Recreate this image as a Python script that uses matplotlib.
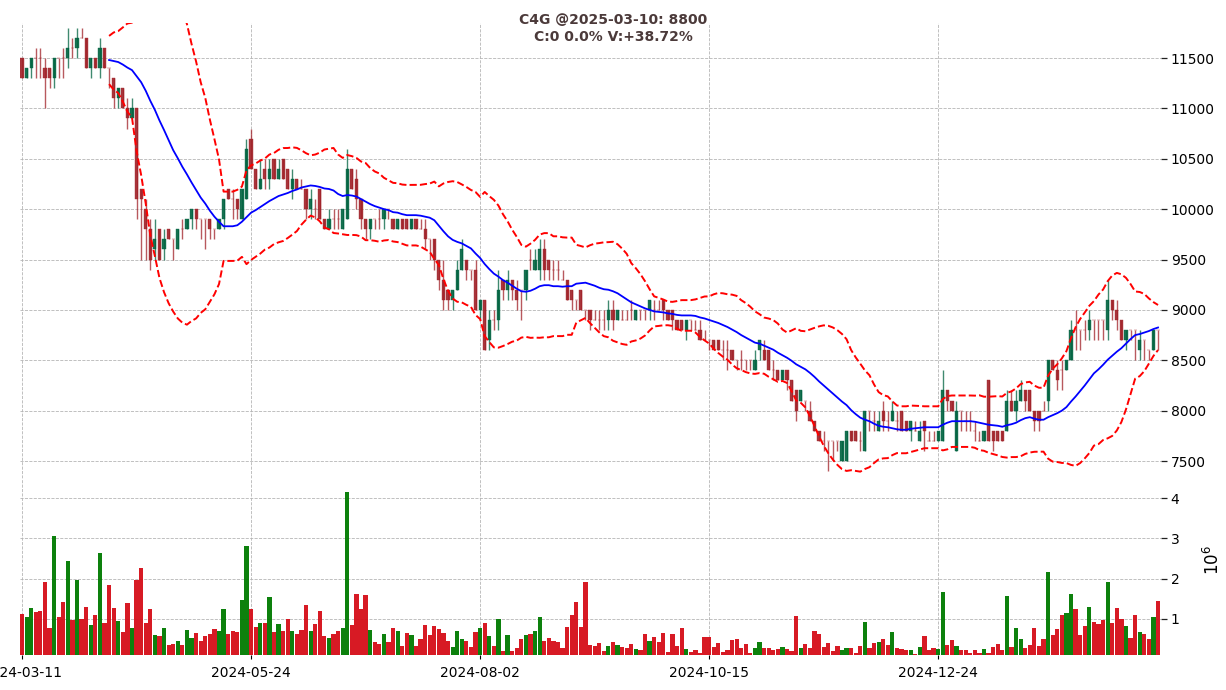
import numpy as np
import pandas as pd
import matplotlib
matplotlib.use("Agg")
import matplotlib.pyplot as plt

# daily OHLC (index 0 = 2024-03-11, last = 2025-03-10)
opens = [11500, 11300, 11400, 11500, 11500, 11400, 11400, 11300, 11500, 11500,
         11500, 11600, 11600, 11700, 11700, 11400, 11500, 11400, 11600, 11400,
         11300, 11100, 11200, 11000, 10900, 11000, 10200, 10000, 9800, 9600,
         9800, 9600, 9800, 9700, 9600, 9800, 9800, 9900, 10000, 9900,
         9900, 9900, 9800, 9800, 9900, 10200, 10100, 10100, 9900, 10100,
         10700, 10400, 10200, 10400, 10300, 10500, 10300, 10500, 10400, 10200,
         10300, 10200, 10200, 10000, 10000, 10200, 9900, 9800, 9900, 9900,
         9800, 9900, 10400, 10300, 10100, 9900, 9800, 9900, 9900, 9900,
         10000, 9900, 9800, 9900, 9900, 9800, 9900, 9800, 9800, 9700,
         9700, 9500, 9300, 9200, 9100, 9200, 9400, 9500, 9400, 9400,
         9000, 9100, 8700, 8900, 8900, 9300, 9200, 9300, 9200, 9200,
         9200, 9500, 9400, 9400, 9600, 9500, 9400, 9400, 9300, 9300,
         9200, 9100, 9200, 9000, 9000, 8900, 8900, 8900, 8900, 9000,
         8900, 8900, 8900, 9000, 8900, 9000, 9000, 9000, 9000, 9000,
         9100, 9000, 9000, 8900, 8900, 8800, 8900, 8800, 8800, 8700,
         8700, 8700, 8700, 8600, 8600, 8600, 8500, 8500, 8500, 8500,
         8400, 8600, 8600, 8600, 8400, 8400, 8300, 8400, 8300, 8200,
         8100, 8100, 8000, 7900, 7800, 7700, 7700, 7700, 7700, 7500,
         7500, 7800, 7800, 7700, 7600, 8000, 7900, 7800, 8000, 7900,
         7900, 7900, 8000, 7900, 7800, 7800, 7700, 7900, 7700, 7700,
         7700, 7700, 8200, 8100, 7600, 8000, 7900, 7900, 7800, 7700,
         7700, 8300, 7800, 7800, 7800, 7800, 8100, 8000, 8100, 8200,
         8200, 8000, 8000, 8000, 8100, 8500, 8400, 8400, 8400, 8500,
         8800, 8800, 8800, 8800, 8900, 8900, 8900, 8800, 9100, 9000,
         8900, 8700, 8800, 8800, 8600, 8700, 8600, 8600, 8800]
highs = [11500, 11400, 11500, 11600, 11600, 11500, 11400, 11500, 11500, 11600,
         11800, 11700, 11800, 11800, 11700, 11500, 11500, 11700, 11600, 11400,
         11300, 11200, 11200, 11100, 11100, 11000, 10200, 10100, 9900, 9900,
         9800, 9800, 9800, 9700, 9800, 9900, 9900, 10000, 10000, 9900,
         9900, 9900, 9800, 9900, 10100, 10200, 10200, 10100, 10200, 10700,
         10800, 10400, 10500, 10500, 10500, 10500, 10500, 10500, 10400, 10400,
         10300, 10300, 10200, 10200, 10100, 10200, 9900, 10000, 10000, 10000,
         10000, 10600, 10400, 10400, 10100, 9900, 9900, 9900, 10000, 10000,
         10000, 9900, 9900, 9900, 9900, 9900, 9900, 9900, 9900, 9700,
         9700, 9500, 9500, 9200, 9200, 9500, 9700, 9500, 9400, 9500,
         9100, 9100, 9000, 9000, 9400, 9300, 9400, 9300, 9300, 9200,
         9400, 9600, 9600, 9700, 9700, 9500, 9500, 9500, 9400, 9300,
         9200, 9100, 9200, 9000, 9000, 9000, 9000, 9000, 9100, 9100,
         9000, 9000, 9000, 9100, 9000, 9000, 9000, 9100, 9100, 9100,
         9100, 9000, 9000, 8900, 8900, 8900, 8900, 8900, 8900, 8800,
         8700, 8700, 8700, 8700, 8700, 8600, 8500, 8600, 8500, 8500,
         8600, 8700, 8700, 8600, 8500, 8400, 8400, 8400, 8300, 8200,
         8200, 8100, 8100, 7900, 7800, 7800, 7700, 7700, 7700, 7700,
         7800, 7800, 7800, 7800, 8000, 8000, 8000, 8000, 8100, 8000,
         8100, 8000, 8000, 7900, 7900, 7900, 7900, 7900, 7800, 7800,
         7800, 8400, 8200, 8100, 8100, 8000, 8000, 8000, 7900, 7800,
         7800, 8300, 7800, 7800, 7800, 8200, 8200, 8200, 8300, 8200,
         8200, 8000, 8000, 8100, 8500, 8500, 8500, 8500, 8500, 8900,
         9000, 8800, 8900, 9000, 8900, 8900, 8900, 9300, 9100, 9100,
         8900, 8800, 8800, 8800, 8800, 8700, 8600, 8800, 8800]
lows = [11300, 11300, 11300, 11300, 11300, 11000, 11200, 11200, 11300, 11300,
        11400, 11500, 11500, 11700, 11400, 11300, 11400, 11300, 11400, 11200,
        11000, 11000, 11000, 10800, 10900, 9900, 9500, 9500, 9400, 9500,
        9500, 9500, 9700, 9500, 9600, 9700, 9800, 9800, 9800, 9700,
        9600, 9700, 9700, 9800, 9800, 10100, 9900, 9900, 9900, 10100,
        10400, 10200, 10200, 10200, 10200, 10300, 10300, 10300, 10200, 10100,
        10200, 10200, 9900, 9900, 9900, 9900, 9800, 9800, 9800, 9800,
        9800, 9900, 10200, 10000, 9800, 9700, 9700, 9800, 9800, 9800,
        9900, 9800, 9800, 9800, 9800, 9800, 9800, 9800, 9600, 9500,
        9400, 9200, 9000, 9000, 9000, 9200, 9400, 9300, 9300, 9000,
        8900, 8600, 8600, 8800, 8800, 9100, 9100, 9100, 9000, 8900,
        9100, 9400, 9400, 9300, 9300, 9300, 9300, 9300, 9300, 9100,
        9000, 9000, 9000, 8900, 8800, 8900, 8800, 8800, 8800, 8800,
        8900, 8900, 8900, 8900, 8900, 8900, 8900, 8900, 8900, 9000,
        8900, 8900, 8800, 8800, 8800, 8700, 8800, 8800, 8700, 8700,
        8600, 8600, 8600, 8500, 8400, 8500, 8400, 8400, 8400, 8400,
        8400, 8500, 8500, 8400, 8300, 8300, 8300, 8200, 8100, 7900,
        8100, 8000, 7900, 7800, 7700, 7600, 7400, 7500, 7600, 7500,
        7500, 7700, 7700, 7600, 7600, 7800, 7800, 7800, 7800, 7800,
        7900, 7800, 7800, 7800, 7700, 7800, 7700, 7600, 7700, 7700,
        7700, 7700, 8000, 8000, 7600, 7800, 7800, 7800, 7700, 7700,
        7700, 7700, 7600, 7700, 7700, 7800, 8000, 7900, 8100, 8000,
        8000, 7800, 7800, 8000, 8000, 8400, 8200, 8200, 8400, 8500,
        8600, 8600, 8700, 8700, 8700, 8700, 8700, 8700, 8900, 8800,
        8700, 8600, 8700, 8500, 8500, 8500, 8500, 8600, 8600]
closes = [11300, 11400, 11500, 11500, 11500, 11300, 11300, 11500, 11500, 11500,
          11600, 11600, 11700, 11700, 11400, 11500, 11400, 11600, 11400, 11400,
          11100, 11200, 11000, 10900, 11000, 10100, 10100, 9800, 9500, 9700,
          9500, 9700, 9700, 9700, 9800, 9800, 9900, 10000, 9900, 9900,
          9900, 9800, 9800, 9900, 10100, 10100, 10100, 10000, 10200, 10600,
          10400, 10200, 10300, 10300, 10400, 10300, 10400, 10300, 10200, 10300,
          10200, 10200, 10000, 10100, 10000, 9900, 9800, 9900, 9900, 9900,
          10000, 10400, 10200, 10100, 9900, 9800, 9900, 9900, 9900, 10000,
          10000, 9800, 9900, 9800, 9800, 9900, 9800, 9800, 9700, 9700,
          9500, 9300, 9100, 9100, 9200, 9400, 9600, 9400, 9400, 9000,
          9100, 8600, 8900, 8900, 9200, 9200, 9300, 9200, 9100, 9200,
          9400, 9500, 9500, 9600, 9400, 9400, 9400, 9400, 9300, 9100,
          9100, 9100, 9000, 9000, 8900, 8900, 8900, 8900, 9000, 8900,
          9000, 8900, 8900, 9000, 9000, 9000, 9000, 9100, 9000, 9000,
          9000, 8900, 8900, 8800, 8800, 8900, 8900, 8800, 8700, 8700,
          8700, 8600, 8600, 8600, 8600, 8500, 8500, 8500, 8500, 8500,
          8500, 8700, 8500, 8400, 8400, 8300, 8400, 8300, 8100, 8000,
          8200, 8100, 7900, 7800, 7700, 7700, 7700, 7700, 7700, 7700,
          7800, 7700, 7700, 7700, 8000, 8000, 7900, 7900, 7900, 7900,
          8000, 7900, 7800, 7800, 7900, 7800, 7800, 7800, 7700, 7700,
          7800, 8200, 8100, 8000, 8000, 8000, 7900, 7900, 7800, 7700,
          7800, 7700, 7700, 7700, 7700, 8100, 8000, 8100, 8200, 8100,
          8000, 7900, 7900, 8000, 8500, 8400, 8300, 8400, 8500, 8800,
          8800, 8800, 8800, 8900, 8900, 8900, 8900, 9100, 9000, 8900,
          8700, 8800, 8800, 8800, 8700, 8700, 8600, 8800, 8800]
# volume in units of 10^6
volumes = [1.11, 1.03, 1.26, 1.16, 1.18, 1.91, 0.76, 3.06, 1.03, 1.41,
           2.43, 0.96, 1.96, 0.98, 1.28, 0.83, 1.08, 2.63, 0.88, 1.83,
           1.26, 0.93, 0.66, 1.38, 0.76, 1.96, 2.26, 0.88, 1.23, 0.58,
           0.56, 0.76, 0.33, 0.36, 0.43, 0.33, 0.71, 0.51, 0.63, 0.43,
           0.56, 0.61, 0.73, 0.68, 1.23, 0.61, 0.68, 0.66, 1.46, 2.81,
           1.23, 0.78, 0.88, 0.88, 1.53, 0.66, 0.86, 0.68, 0.98, 0.68,
           0.61, 0.71, 1.33, 0.68, 0.86, 1.18, 0.56, 0.51, 0.61, 0.68,
           0.76, 4.16, 0.83, 1.61, 1.23, 1.58, 0.71, 0.41, 0.36, 0.61,
           0.41, 0.76, 0.68, 0.31, 0.63, 0.58, 0.31, 0.48, 0.83, 0.58,
           0.81, 0.73, 0.63, 0.43, 0.28, 0.68, 0.48, 0.43, 0.28, 0.66,
           0.76, 0.88, 0.56, 0.31, 0.98, 0.18, 0.58, 0.18, 0.26, 0.48,
           0.58, 0.61, 0.68, 1.03, 0.43, 0.51, 0.43, 0.41, 0.26, 0.78,
           1.08, 1.41, 0.78, 1.91, 0.33, 0.31, 0.38, 0.18, 0.31, 0.41,
           0.33, 0.28, 0.26, 0.36, 0.23, 0.21, 0.61, 0.43, 0.53, 0.41,
           0.63, 0.16, 0.61, 0.31, 0.76, 0.23, 0.16, 0.21, 0.13, 0.53,
           0.53, 0.28, 0.38, 0.16, 0.21, 0.46, 0.48, 0.26, 0.36, 0.13,
           0.26, 0.41, 0.26, 0.26, 0.21, 0.23, 0.28, 0.23, 0.18, 1.06,
           0.26, 0.36, 0.26, 0.68, 0.61, 0.28, 0.38, 0.18, 0.31, 0.21,
           0.26, 0.26, 0.13, 0.31, 0.91, 0.26, 0.38, 0.41, 0.48, 0.33,
           0.66, 0.26, 0.23, 0.21, 0.21, 0.11, 0.28, 0.56, 0.21, 0.26,
           0.23, 1.66, 0.33, 0.46, 0.31, 0.22, 0.21, 0.14, 0.21, 0.14,
           0.23, 0.13, 0.28, 0.36, 0.21, 1.56, 0.28, 0.76, 0.48, 0.26,
           0.33, 0.76, 0.31, 0.48, 2.16, 0.58, 0.73, 1.08, 1.13, 1.61,
           1.23, 0.58, 0.81, 1.28, 0.91, 0.86, 0.96, 1.91, 0.88, 1.26,
           0.98, 0.81, 0.51, 1.08, 0.66, 0.61, 0.48, 1.03, 1.43]
tick_pos = [0, 50, 100, 150, 200]
tick_labels = ['2024-03-11', '2024-05-24', '2024-08-02', '2024-10-15', '2024-12-24']
title_1 = 'C4G @2025-03-10: 8800'
title_2 = 'C:0 0.0% V:+38.72%'

up_col, down_col = '#006340', '#a02128'
vup_col, vdown_col = '#007a00', '#d50d18'

o = np.array(opens, dtype=float)
h = np.array(highs, dtype=float)
l = np.array(lows, dtype=float)
c = np.array(closes, dtype=float)
v = np.array(volumes)
x = np.arange(len(c))
up = c > o

# 20 day moving average and bollinger bands
cs = pd.Series(c)
mid = cs.rolling(20).mean()
sd = cs.rolling(20).std()
upper = mid + 2 * sd
lower = mid - 2 * sd

fig = plt.figure(figsize=(12.26, 6.9), dpi=100)
ax = fig.add_axes([0.0163, 0.3072, 0.9307, 0.6594])
axv = fig.add_axes([0.0163, 0.0507, 0.9307, 0.2565], sharex=ax)

cols = np.where(up, up_col, down_col)
ax.vlines(x, l, h, colors=cols, linewidth=1.0, alpha=0.75, zorder=2)
ax.bar(x, np.abs(c - o), bottom=np.minimum(o, c), width=0.7,
       color=cols, edgecolor=cols, linewidth=0.3, alpha=0.9, zorder=3)

ax.plot(x, mid, color='blue', linewidth=1.3, zorder=4)
ax.plot(x, upper, color='red', linewidth=1.4, linestyle='--', zorder=4)
ax.plot(x, lower, color='red', linewidth=1.4, linestyle='--', zorder=4)

vcols = np.where(up, vup_col, vdown_col)
axv.bar(x, v, width=0.92, color=vcols, alpha=0.95, zorder=3)

ax.set_xlim(-0.45, len(c) - 0.35)
ax.set_ylim(7331, 11847)
axv.set_ylim(0.09, 4.51)

for a in (ax, axv):
    for s in a.spines.values():
        s.set_visible(False)
    a.yaxis.tick_right()
    a.grid(True, linestyle='--', linewidth=0.6, color='#b5b5b5', zorder=0)
    a.set_axisbelow(True)
    a.tick_params(axis='y', length=4, width=0.9, color='#222222',
                  labelsize=10, pad=3)

ax.set_yticks(range(7500, 11501, 500))
ax.set_xticks(tick_pos)
ax.tick_params(axis='x', length=0, labelbottom=False)
axv.set_yticks([1, 2, 3, 4])
axv.set_xticks(tick_pos)
axv.set_xticklabels(tick_labels)
axv.tick_params(axis='x', length=3, width=0.8, labelsize=10, pad=5)

fig.text(1213 / 1226, 1 - 560 / 690, r'$10^6$', rotation=90,
         ha='center', va='center', fontsize=12)
fig.text(0.5, 1 - 20 / 690, title_1, ha='center', va='center',
         fontsize=10, fontweight='bold', color='#4b3a3a')
fig.text(0.5, 1 - 37 / 690, title_2, ha='center', va='center',
         fontsize=10, fontweight='bold', color='#4b3a3a')

fig.savefig('out.png', dpi=100)
